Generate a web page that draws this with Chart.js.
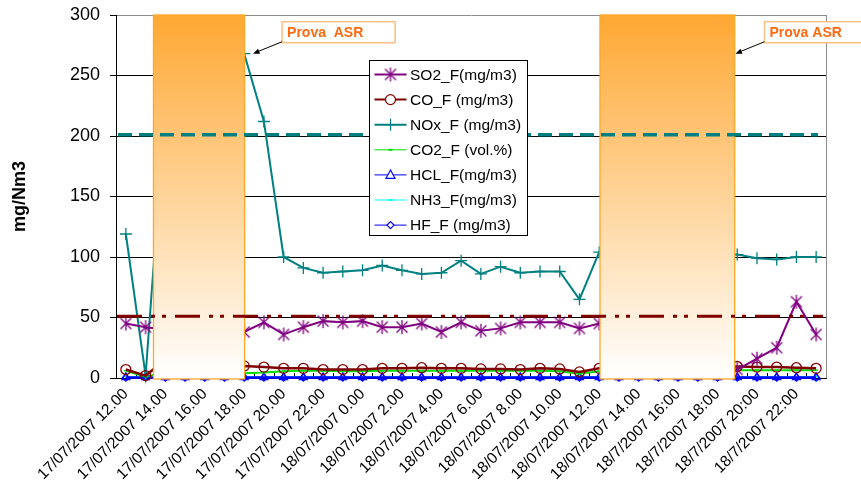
<!DOCTYPE html>
<html>
<head>
<meta charset="utf-8">
<script src="https://cdn.jsdelivr.net/npm/chart.js@4.4.1/dist/chart.umd.min.js"></script>
<style>
  html, body { margin: 0; padding: 0; background: #fff; }
</style>
</head>
<body>
<canvas id="chart" width="861" height="486"></canvas>
<script>
// hourly categories, 17/07/2007 12:00 -> 18/07/2007 23:00
const hours = [
  '17/07/2007 12.00', '17/07/2007 13.00', '17/07/2007 14.00', '17/07/2007 15.00',
  '17/07/2007 16.00', '17/07/2007 17.00', '17/07/2007 18.00', '17/07/2007 19.00',
  '17/07/2007 20.00', '17/07/2007 21.00', '17/07/2007 22.00', '17/07/2007 23.00',
  '18/07/2007 0.00', '18/07/2007 1.00', '18/07/2007 2.00', '18/07/2007 3.00',
  '18/07/2007 4.00', '18/07/2007 5.00', '18/07/2007 6.00', '18/07/2007 7.00',
  '18/07/2007 8.00', '18/07/2007 9.00', '18/07/2007 10.00', '18/07/2007 11.00',
  '18/07/2007 12.00', '18/07/2007 13.00', '18/07/2007 14.00', '18/07/2007 15.00',
  '18/7/2007 16:00', '18/7/2007 17:00', '18/7/2007 18:00', '18/7/2007 19:00',
  '18/7/2007 20:00', '18/7/2007 21:00', '18/7/2007 22:00', '18/7/2007 23:00'
];

// only every second hour gets a label on the axis
const tickLabels = [
  '17/07/2007 12.00', '17/07/2007 14.00', '17/07/2007 16.00', '17/07/2007 18.00',
  '17/07/2007 20.00', '17/07/2007 22.00', '18/07/2007 0.00', '18/07/2007 2.00',
  '18/07/2007 4.00', '18/07/2007 6.00', '18/07/2007 8.00', '18/07/2007 10.00',
  '18/07/2007 12.00', '18/07/2007 14.00', '18/7/2007 16:00', '18/7/2007 18:00',
  '18/7/2007 20:00', '18/7/2007 22:00'
];

const so2 = [45, 42, 40, 41, 42, 40, 38, 46, 36, 42, 47, 46, 47, 42, 42, 45, 38, 46,
  39, 41, 46, 46, 46, 41, 45, 44, 43, 40, 12, 6, 6, 7, 16, 25, 63, 36];
const co = [7, 2, 15, 10, 9, 9, 10, 9, 8, 8, 7, 7, 7, 8, 8, 8.5, 8, 8,
  7.5, 7.5, 7, 8, 7.5, 5, 8, 8, 8, 8, 9, 9, 9.5, 9.5, 9, 9, 8.5, 8];
const nox = [119, 2, 225, 250, 262, 266, 268, 212, 100, 91, 87, 88, 89, 93, 89, 86, 87, 97,
  86, 92, 87, 88, 88, 65, 104, 102, 100, 101, 100, 101, 102, 102, 99, 98, 100, 100];
const co2 = [6, 1, 5, 5, 5, 5, 4, 4.5, 5.5, 6, 6, 5.5, 5.5, 6, 6, 6, 6, 6,
  6, 6, 6, 6, 5.5, 3.5, 5.5, 6, 6, 6, 6, 6, 6, 6.5, 6.5, 6.5, 6.5, 6.5];
const hcl = [0.5, 0.5, 0.5, 0.5, 0.5, 0.5, 0.5, 0.5, 0.5, 0.5, 0.5, 0.5, 0.5, 0.5, 0.5, 0.5, 0.5, 0.5,
  0.5, 0.5, 0.5, 0.5, 0.5, 0.5, 0.5, 0.5, 0.5, 0.5, 0.5, 0.5, 0.5, 0.5, 0.5, 0.5, 0.5, 0.5];
const nh3 = [1, 0.5, 1, 1, 1, 1, 1, 1, 1, 1, 1, 1, 1, 1, 1, 1, 1, 1,
  1, 1, 1, 1, 1, 1, 1, 1, 1, 1, 1, 1, 1, 1, 1, 1, 1, 1];
const hf = [0.3, 0.3, 0.3, 0.3, 0.3, 0.3, 0.3, 0.3, 0.3, 0.3, 0.3, 0.3, 0.3, 0.3, 0.3, 0.3, 0.3, 0.3,
  0.3, 0.3, 0.3, 0.3, 0.3, 0.3, 0.3, 0.3, 0.3, 0.3, 0.3, 0.3, 0.3, 0.3, 0.3, 0.3, 0.3, 0.3];

// emission limits (mg/Nm3)
const limitNOx = 201;
const limitSO2 = 51;

// ASR test periods, in category positions (start, end)
const testBands = [[1.4, 6.02], [24.04, 30.87]];
// callouts pointing at the end of each test period: [text, category position, value]
const callouts = [['Prova  ASR', 6.45, 268], ['Prova ASR', 30.91, 268]];

const FONT = "'Liberation Sans', Arial, sans-serif";
Chart.defaults.font.family = FONT;

function starMarker(color, r) {
  const c = document.createElement('canvas');
  const s = r * 2 + 2;
  c.width = s; c.height = s;
  const g = c.getContext('2d');
  const m = s / 2, d = r * 0.78;
  g.strokeStyle = color;
  g.lineWidth = 1.3;
  g.beginPath();
  g.moveTo(m - d, m - d); g.lineTo(m + d, m + d);
  g.moveTo(m + d, m - d); g.lineTo(m - d, m + d);
  g.moveTo(m, m - r); g.lineTo(m, m + r);
  g.stroke();
  return c;
}

const series = [
  { label: 'SO2_F(mg/m3)', data: so2, color: '#800080', width: 2, style: starMarker('#800080', 7), r: 7, legendW: 2 },
  { label: 'CO_F (mg/m3)', data: co, color: '#800000', width: 2.5, style: 'circle', r: 5, legendW: 2 },
  { label: 'NOx_F (mg/m3)', data: nox, color: '#008080', width: 2, style: 'cross', r: 6, legendW: 2 },
  { label: 'CO2_F (vol.%)', data: co2, color: '#00E000', width: 2, style: 'line', r: 2, legendW: 1 },
  { label: 'HCL_F(mg/m3)', data: hcl, color: '#0000FF', width: 2.5, style: 'triangle', r: 4.5, legendW: 1 },
  { label: 'NH3_F(mg/m3)', data: nh3, color: '#00FFFF', width: 1.5, style: 'line', r: 2, legendW: 1 },
  { label: 'HF_F (mg/m3)', data: hf, color: '#0000FF', width: 1.5, style: 'rectRot', r: 3.5, legendW: 1 }
];

function drawMarker(ctx, s, x, y) {
  const r = s.r;
  ctx.save();
  ctx.strokeStyle = s.color;
  ctx.fillStyle = '#fff';
  ctx.lineWidth = 1.2;
  ctx.beginPath();
  if (typeof s.style !== 'string') {
    ctx.drawImage(s.style, x - s.style.width / 2, y - s.style.height / 2);
  } else if (s.style === 'circle') {
    ctx.arc(x, y, r, 0, Math.PI * 2); ctx.fill(); ctx.stroke();
  } else if (s.style === 'cross') {
    ctx.moveTo(x - r, y); ctx.lineTo(x + r, y); ctx.moveTo(x, y - r); ctx.lineTo(x, y + r); ctx.stroke();
  } else if (s.style === 'line') {
    ctx.lineWidth = 2;
    ctx.moveTo(x - r, y); ctx.lineTo(x + r, y); ctx.stroke();
  } else if (s.style === 'triangle') {
    ctx.moveTo(x, y - r * 1.1); ctx.lineTo(x + r, y + r * 0.75); ctx.lineTo(x - r, y + r * 0.75);
    ctx.closePath(); ctx.fill(); ctx.stroke();
  } else if (s.style === 'rectRot') {
    ctx.moveTo(x, y - r); ctx.lineTo(x + r, y); ctx.lineTo(x, y + r); ctx.lineTo(x - r, y);
    ctx.closePath(); ctx.fill(); ctx.stroke();
  }
  ctx.restore();
}

const decor = {
  id: 'decor',
  beforeDatasetsDraw(chart) {
    const { ctx, chartArea: a, scales: { x } } = chart;
    ctx.save();
    ctx.strokeStyle = '#8c8c8c';
    ctx.lineWidth = 1;
    ctx.beginPath();
    ctx.moveTo(a.right + 0.5, a.top); ctx.lineTo(a.right + 0.5, a.bottom);
    ctx.stroke();
    // small inward ticks between categories
    ctx.strokeStyle = '#000';
    ctx.beginPath();
    for (let i = 1; i < hours.length; i++) {
      const px = Math.round(x.getPixelForValue(i - 0.5)) + 0.5;
      ctx.moveTo(px, a.bottom); ctx.lineTo(px, a.bottom - 5);
    }
    ctx.stroke();
    ctx.restore();
  },
  afterDatasetsDraw(chart) {
    const { ctx, chartArea: a, scales: { x, y } } = chart;
    ctx.save();

    // test periods
    testBands.forEach(([s, e]) => {
      const x0 = x.getPixelForValue(s), x1 = x.getPixelForValue(e);
      const g = ctx.createLinearGradient(0, a.top, 0, a.bottom);
      g.addColorStop(0, '#FFA833');
      g.addColorStop(1, '#FFFFFF');
      ctx.fillStyle = g;
      ctx.fillRect(x0, a.top, x1 - x0, a.bottom + 1 - a.top);
      ctx.strokeStyle = '#FFA726';
      ctx.lineWidth = 1.3;
      ctx.strokeRect(x0, a.top, x1 - x0, a.bottom + 1 - a.top);
    });

    // limit lines
    let py = y.getPixelForValue(limitNOx);
    ctx.strokeStyle = '#008080';
    ctx.lineWidth = 3.5;
    ctx.setLineDash([14, 7]);
    ctx.beginPath(); ctx.moveTo(a.left + 2, py); ctx.lineTo(a.right - 8, py); ctx.stroke();

    py = y.getPixelForValue(limitSO2);
    ctx.strokeStyle = '#800000';
    ctx.lineWidth = 3;
    ctx.setLineDash([25, 9, 4, 7, 4, 9]);
    ctx.beginPath(); ctx.moveTo(a.left + 1, py); ctx.lineTo(a.right - 3, py); ctx.stroke();
    ctx.setLineDash([]);

    // legend
    const lx = 369.5, ly = 60.5, lw = 158, lh = 175;
    ctx.fillStyle = '#fff';
    ctx.fillRect(lx, ly, lw, lh);
    ctx.strokeStyle = '#000';
    ctx.lineWidth = 1;
    ctx.strokeRect(lx, ly, lw, lh);
    ctx.font = '15.5px ' + FONT;
    ctx.textBaseline = 'middle';
    ctx.textAlign = 'left';
    series.forEach((s, i) => {
      const ry = ly + 14 + i * 25.1;
      ctx.strokeStyle = s.color;
      ctx.lineWidth = s.legendW;
      ctx.beginPath(); ctx.moveTo(lx + 5, ry); ctx.lineTo(lx + 37, ry); ctx.stroke();
      drawMarker(ctx, s, lx + 21, ry);
      ctx.fillStyle = '#000';
      ctx.fillText(s.label, lx + 40.5, ry + 1);
    });

    // callouts
    callouts.forEach(([text, at, v]) => {
      const tx = x.getPixelForValue(at), ty = y.getPixelForValue(v);
      const bx = tx + 29, by = ty - 32;
      ctx.fillStyle = '#fff';
      ctx.fillRect(bx, by, 113, 21);
      ctx.strokeStyle = '#FFBF80';
      ctx.lineWidth = 1.5;
      ctx.strokeRect(bx, by, 113, 21);
      ctx.fillStyle = '#FF6A10';
      ctx.font = 'bold 14px ' + FONT;
      ctx.textBaseline = 'middle';
      ctx.fillText(text, bx + 5, by + 11);
      // arrow
      ctx.strokeStyle = '#000';
      ctx.fillStyle = '#000';
      ctx.lineWidth = 1;
      ctx.beginPath(); ctx.moveTo(bx, by + 20); ctx.lineTo(tx + 2, ty - 1); ctx.stroke();
      const ang = Math.atan2(ty - (by + 20), tx - bx);
      ctx.beginPath();
      ctx.moveTo(tx, ty);
      ctx.lineTo(tx - 7 * Math.cos(ang - 0.4), ty - 7 * Math.sin(ang - 0.4));
      ctx.lineTo(tx - 7 * Math.cos(ang + 0.4), ty - 7 * Math.sin(ang + 0.4));
      ctx.closePath(); ctx.fill();
    });
    ctx.restore();
  }
};

new Chart(document.getElementById('chart').getContext('2d'), {
  type: 'line',
  data: {
    labels: hours,
    datasets: series.map(s => ({
      label: s.label,
      data: s.data,
      borderColor: s.color,
      borderWidth: s.width,
      pointStyle: s.style,
      pointRadius: s.r,
      pointBorderColor: s.color,
      pointBackgroundColor: 'rgba(0,0,0,0)',
      pointBorderWidth: 1.3,
      tension: 0,
      fill: false,
      clip: false
    }))
  },
  options: {
    responsive: false,
    animation: false,
    layout: { padding: { top: 15, right: 35, left: 0, bottom: 0 } },
    plugins: {
      legend: { display: false },
      tooltip: { enabled: false }
    },
    scales: {
      x: {
        offset: true,
        grid: { display: false, drawTicks: false, offset: true },
        border: { color: '#000', width: 1 },
        ticks: {
          autoSkip: false,
          minRotation: 45,
          maxRotation: 45,
          padding: 7,
          color: '#000',
          font: { size: 15.5 },
          callback: (v, i) => (i % 2 === 0 ? tickLabels[i / 2] : '')
        },
        afterFit: scale => { scale.height = 108; }
      },
      y: {
        min: 0,
        max: 300,
        ticks: { stepSize: 50, color: '#000', padding: 10, font: { size: 18 } },
        grid: {
          color: c => (c.tick && c.tick.value === 300 ? '#8c8c8c' : '#000'),
          tickColor: '#000',
          tickLength: 6
        },
        border: { color: '#000', width: 1 },
        title: {
          display: true,
          text: 'mg/Nm3',
          color: '#000',
          font: { size: 18, weight: 'bold' },
          padding: { top: 9, bottom: 0 }
        },
        afterFit: scale => { scale.width = 116; scale.paddingTop = 0; scale.paddingBottom = 0; }
      }
    }
  },
  plugins: [decor]
});
</script>
</body>
</html>
